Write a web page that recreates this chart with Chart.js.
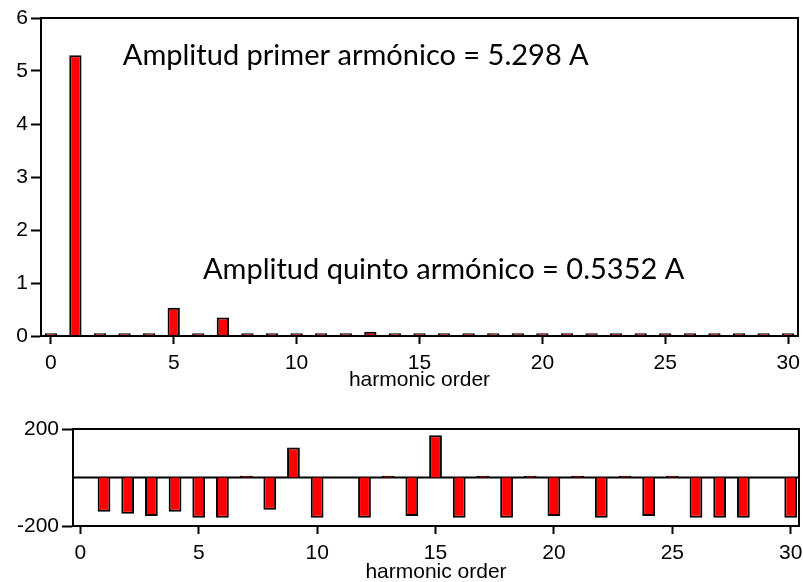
<!DOCTYPE html>
<html lang="es">
<head>
<meta charset="UTF-8">
<title>Espectro armónico</title>
<script src="https://cdn.jsdelivr.net/npm/chart.js"></script>
<style>
  body { margin: 0; background: #fff; overflow: hidden; }
  canvas { position: absolute; left: 0; }
  #ampChart { top: 0; }
  #phaseChart { top: 395px; }
</style>
</head>
<body>
<canvas id="ampChart" width="803" height="395"></canvas>
<canvas id="phaseChart" width="803" height="192"></canvas>
<script>
// orden armónico 0..30
const harmonics = [0, 1, 2, 3, 4, 5, 6, 7, 8, 9, 10, 11, 12, 13, 14, 15, 16, 17, 18, 19, 20, 21, 22, 23, 24, 25, 26, 27, 28, 29, 30];
// amplitud (A)
const amplitude = [0.05, 5.298, 0.05, 0.05, 0.05, 0.5352, 0.05, 0.35, 0.05, 0.05, 0.05, 0.05, 0.05, 0.08, 0.05, 0.05,
                   0.05, 0.05, 0.05, 0.05, 0.05, 0.05, 0.05, 0.05, 0.05, 0.05, 0.05, 0.05, 0.05, 0.05, 0.05];
// fase (grados), null = sin barra
const phase = [null, -141, -149, -159, -141, -166, -166, 7, -133, 124, -166, null, -166, 7, -159, 174,
               -166, 7, -166, 7, -159, 7, -166, 7, -159, 7, -166, -166, -166, null, -166];

const orderTicks = [0, 5, 10, 15, 20, 25, 30];
const ampTicks = [0, 1, 2, 3, 4, 5, 6];
const phaseTicks = [-200, 200];

const noteTexts = ['Amplitud primer armónico = 5.298 A', 'Amplitud quinto armónico = 0.5352 A'];
const noteX = [2.93, 6.19];
const noteY = [5.11, 1.08];

const tickFont = { family: 'Liberation Sans', size: 21 };

// recuadro alrededor del área de trazado + línea de cero opcional + textos
const framePlugin = {
  id: 'frame',
  beforeDatasetsDraw(chart, args, opts) {
    if (!opts.zeroLine) return;
    const { ctx, chartArea: a } = chart;
    const y = chart.scales.y.getPixelForValue(0);
    ctx.save();
    ctx.strokeStyle = '#000';
    ctx.lineWidth = 2;
    ctx.beginPath();
    ctx.moveTo(a.left, y);
    ctx.lineTo(a.right, y);
    ctx.stroke();
    ctx.restore();
  },
  afterDatasetsDraw(chart, args, opts) {
    const { ctx, chartArea: a } = chart;
    ctx.save();
    ctx.strokeStyle = '#000';
    ctx.lineWidth = 2;
    ctx.strokeRect(a.left, a.top, a.right - a.left, a.bottom - a.top);
    if (opts.notes) {
      ctx.fillStyle = '#000';
      ctx.font = '29px Lato';
      ctx.textBaseline = 'alphabetic';
      opts.notes.forEach((t, i) => {
        ctx.fillText(t, chart.scales.x.getPixelForValue(noteX[i]), chart.scales.y.getPixelForValue(noteY[i]));
      });
    }
    ctx.restore();
  }
};

function orderAxis(min, max, height) {
  return {
    type: 'linear', min: min, max: max, offset: false,
    grid: { drawOnChartArea: false, offset: false, tickLength: 8, tickWidth: 2, tickColor: '#000' },
    border: { display: true, color: '#000', width: 2 },
    ticks: { color: '#000', font: tickFont, padding: 7, maxRotation: 0 },
    afterBuildTicks: s => { s.ticks = orderTicks.map(v => ({ value: v })); },
    title: { display: true, text: 'harmonic order', color: '#000', font: tickFont, padding: { top: 0, bottom: 2 } },
    afterFit: s => {
      s.height = height;
      // las etiquetas extremas caben en el margen: sin relleno extra
      s.paddingLeft = 0;
      s.paddingRight = 0;
    }
  };
}

function valueAxis(min, max, tickVals, width, tickLen) {
  return {
    min: min, max: max,
    grid: { drawOnChartArea: false, tickLength: tickLen, tickWidth: 2, tickColor: '#000' },
    border: { display: true, color: '#000', width: 2 },
    ticks: { color: '#000', font: tickFont, padding: 3 },
    afterBuildTicks: s => { s.ticks = tickVals.map(v => ({ value: v })); },
    afterFit: s => {
      s.width = width;
      s.paddingTop = 0;
      s.paddingBottom = 0;
    }
  };
}

const barStyle = {
  backgroundColor: '#ff0000',
  borderColor: '#000',
  borderWidth: 2,
  categoryPercentage: 1
};

new Chart(document.getElementById('ampChart'), {
  type: 'bar',
  data: {
    datasets: [Object.assign({
      data: harmonics.map((h, i) => ({ x: h, y: amplitude[i] })),
      barPercentage: 0.5
    }, barStyle)]
  },
  options: {
    responsive: false,
    animation: false,
    layout: { padding: { top: 18, right: 5, left: 0, bottom: 0 } },
    plugins: { legend: { display: false }, tooltip: { enabled: false }, frame: { notes: noteTexts } },
    scales: {
      x: orderAxis(-0.4, 30.4, 59),
      y: valueAxis(0, 6, ampTicks, 41, 10)
    }
  },
  plugins: [framePlugin]
});

new Chart(document.getElementById('phaseChart'), {
  type: 'bar',
  data: {
    datasets: [Object.assign({
      data: harmonics.map((h, i) => ({ x: h, y: phase[i] })),
      barPercentage: 0.54
    }, barStyle)]
  },
  options: {
    responsive: false,
    animation: false,
    layout: { padding: { top: 34, right: 4, left: 0, bottom: 0 } },
    plugins: { legend: { display: false }, tooltip: { enabled: false }, frame: { zeroLine: true } },
    scales: {
      x: orderAxis(-0.31, 30.35, 61),
      y: valueAxis(-200, 200, phaseTicks, 73, 11)
    }
  },
  plugins: [framePlugin]
});
</script>
</body>
</html>
